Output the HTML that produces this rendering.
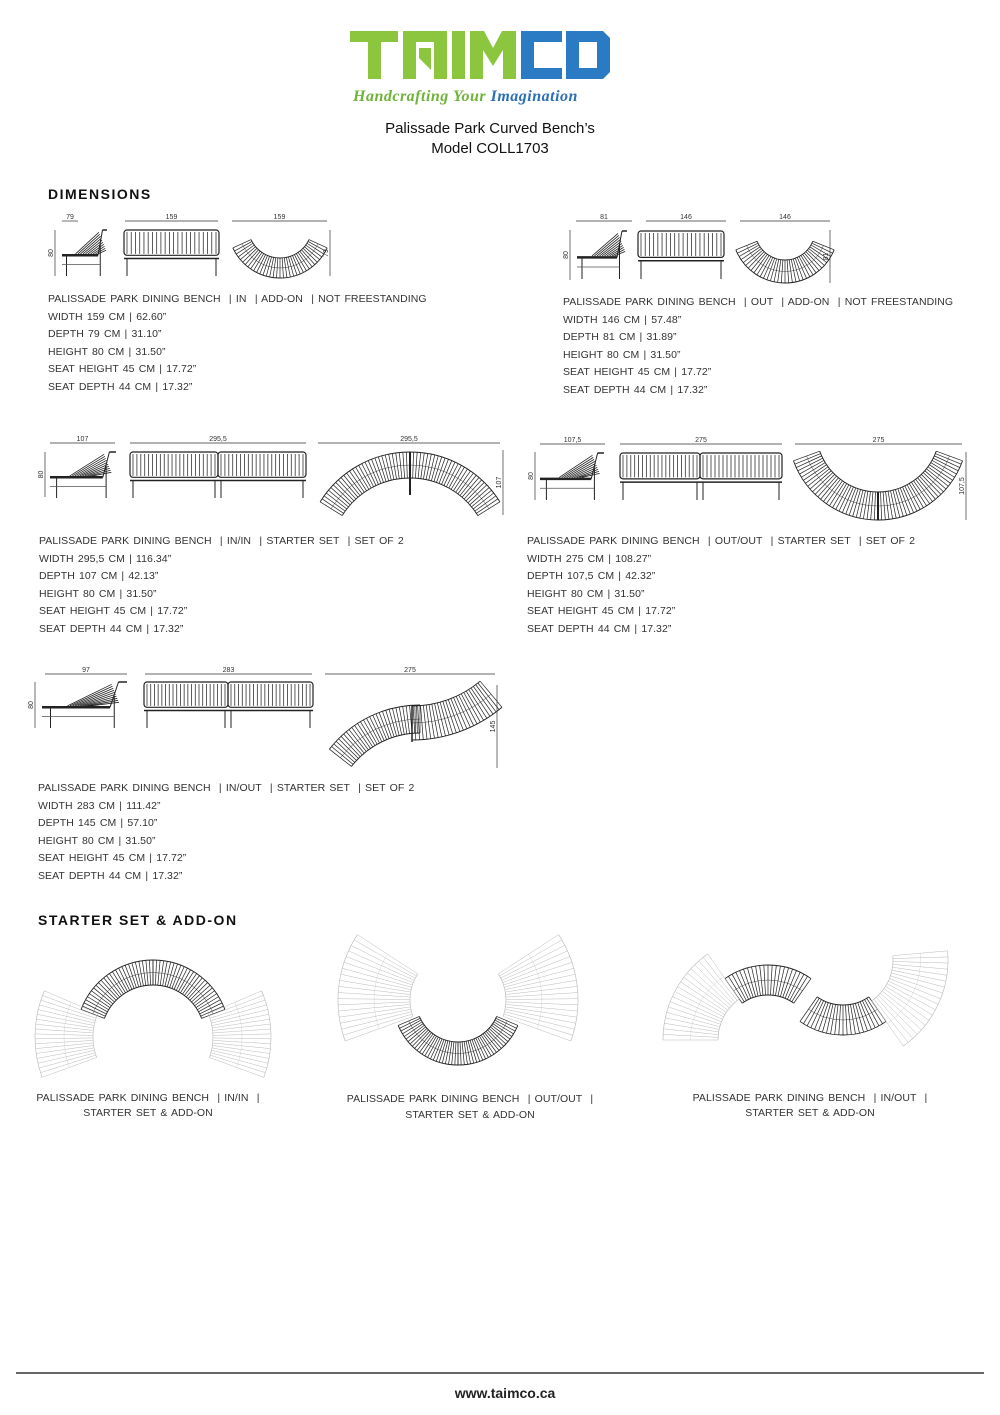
<!DOCTYPE html>
<html><head><meta charset="utf-8">
<style>
body{margin:0;background:#fff;}
#p{position:relative;width:1000px;height:1415px;overflow:hidden;font-family:"Liberation Sans",sans-serif;color:#222;}
.t{position:absolute;white-space:nowrap;}
.sp{font-size:10.5px;letter-spacing:0.05px;word-spacing:1.2px;line-height:17.5px;color:#333;}
.h{font-weight:bold;font-size:14px;letter-spacing:1.5px;color:#111;}
svg{position:absolute;left:0;top:0;}
</style></head><body><div id="p">
<svg width="1000" height="1415" id="s">
<g fill="#8cc63f">
<rect x="350" y="31" width="48" height="11"/><rect x="368" y="31" width="13" height="48"/>
<polygon points="403,31 447,31 447,79 434,79 434,42 416,42 416,79 403,79"/><polygon points="419,48 431,48 431,70 419,58"/>
<rect x="452" y="31" width="13" height="48"/>
<polygon points="470,31 484,31 493,48 502,31 516,31 516,79 503,79 503,50 493,66 483,50 483,79 470,79"/>
</g>
<g fill="#2b7bc4">
<polygon points="521,31 562,31 562,42 534,42 534,68 562,68 562,79 521,79"/>
<polygon points="566,31 603,31 610,38 610,72 603,79 566,79"/>
</g>
<rect x="579" y="42" width="18" height="26" fill="#fff"/>
<line x1="16" y1="1373" x2="984" y2="1373" stroke="#333" stroke-width="1.5"/>
</svg>
<div class="t" style="left:353px;top:88px;font:italic bold 16px 'Liberation Serif',serif;color:#6fb33a;letter-spacing:0.5px">Handcrafting Your <span style="color:#2b6fb4">Imagination</span></div>
<div class="t" style="left:340px;width:300px;top:119px;text-align:center;font-size:15px;line-height:20px;color:#111">Palissade Park Curved Bench’s<br>Model COLL1703</div>
<div class="t h" style="left:48px;top:186px">DIMENSIONS</div>
<div class="t sp" style="left:48px;top:291px">PALISSADE PARK DINING BENCH &nbsp;| IN &nbsp;| ADD-ON &nbsp;| NOT FREESTANDING<br>WIDTH 159 CM | 62.60”<br>DEPTH 79 CM | 31.10”<br>HEIGHT 80 CM | 31.50”<br>SEAT HEIGHT 45 CM | 17.72”<br>SEAT DEPTH 44 CM | 17.32”</div>
<div class="t sp" style="left:563px;top:294px">PALISSADE PARK DINING BENCH &nbsp;| OUT &nbsp;| ADD-ON &nbsp;| NOT FREESTANDING<br>WIDTH 146 CM | 57.48”<br>DEPTH 81 CM | 31.89”<br>HEIGHT 80 CM | 31.50”<br>SEAT HEIGHT 45 CM | 17.72”<br>SEAT DEPTH 44 CM | 17.32”</div>
<div class="t sp" style="left:39px;top:533px">PALISSADE PARK DINING BENCH &nbsp;| IN/IN &nbsp;| STARTER SET &nbsp;| SET OF 2<br>WIDTH 295,5 CM | 116.34”<br>DEPTH 107 CM | 42.13”<br>HEIGHT 80 CM | 31.50”<br>SEAT HEIGHT 45 CM | 17.72”<br>SEAT DEPTH 44 CM | 17.32”</div>
<div class="t sp" style="left:527px;top:533px">PALISSADE PARK DINING BENCH &nbsp;| OUT/OUT &nbsp;| STARTER SET &nbsp;| SET OF 2<br>WIDTH 275 CM | 108.27”<br>DEPTH 107,5 CM | 42.32”<br>HEIGHT 80 CM | 31.50”<br>SEAT HEIGHT 45 CM | 17.72”<br>SEAT DEPTH 44 CM | 17.32”</div>
<div class="t sp" style="left:38px;top:780px">PALISSADE PARK DINING BENCH &nbsp;| IN/OUT &nbsp;| STARTER SET &nbsp;| SET OF 2<br>WIDTH 283 CM | 111.42”<br>DEPTH 145 CM | 57.10”<br>HEIGHT 80 CM | 31.50”<br>SEAT HEIGHT 45 CM | 17.72”<br>SEAT DEPTH 44 CM | 17.32”</div>
<div class="t h" style="left:38px;top:912px">STARTER SET &amp; ADD-ON</div>
<div class="t sp" style="left:0;width:296px;top:1091px;line-height:15px;text-align:center">PALISSADE PARK DINING BENCH &nbsp;| IN/IN &nbsp;|<br>STARTER SET &amp; ADD-ON</div>
<div class="t sp" style="left:320px;width:300px;top:1091px;line-height:16px;text-align:center">PALISSADE PARK DINING BENCH &nbsp;| OUT/OUT &nbsp;|<br>STARTER SET &amp; ADD-ON</div>
<div class="t sp" style="left:660px;width:300px;top:1091px;line-height:15px;text-align:center">PALISSADE PARK DINING BENCH &nbsp;| IN/OUT &nbsp;|<br>STARTER SET &amp; ADD-ON</div>
<div class="t" style="left:405px;width:200px;top:1385px;text-align:center;font-weight:bold;font-size:14px;color:#222">www.taimco.ca</div>
</div>
<script>
var s=document.getElementById('s'),d='';
function L(x1,y1,x2,y2,c,w){d+='<line x1="'+x1+'" y1="'+y1+'" x2="'+x2+'" y2="'+y2+'" stroke="'+(c||'#222')+'" stroke-width="'+(w||1)+'"/>';}
function T(x,y,t,r){d+='<text x="'+x+'" y="'+y+'" font-size="7" font-family="Liberation Sans" fill="#333"'+(r?' transform="rotate(-90 '+x+' '+y+')"':'')+' text-anchor="middle">'+t+'</text>';}
function dim(x1,x2,y,t){L(x1,y,x2,y,'#333',.7);T((x1+x2)/2,y-2,t);}
function vd(x,y1,y2,t){L(x,y1,x,y2,'#333',.7);T(x-2,(y1+y2)/2,t,1);}
function chair(x,y,w,h){
 L(x,y+h*0.55,x+w*0.8,y+h*0.55,'#222',2.5);L(x+w*0.8,y+h*0.55,x+w*0.9,y);L(x+w*0.9,y,x+w,y,'#222',1.5);
 L(x+w*0.1,y+h*0.55,x+w*0.1,y+h);L(x+w*0.85,y+h*0.3,x+w*0.85,y+h);L(x,y+h*0.75,x+w*0.85,y+h*0.75,'#555',.7);
 for(var i=0;i<10;i++)L(x+w*0.3+i*2.5,y+h*0.52,x+w*0.82+i*0.8,y+h*0.05+i*2,'#222',.8);}
function front(x,y,w,h,n){
 d+='<rect x="'+x+'" y="'+y+'" width="'+w+'" height="'+h*0.55+'" fill="none" stroke="#222" stroke-width="1.2" rx="3"/>';
 for(var i=0;i<n;i++){var xx=x+3+i*(w-6)/(n-1);L(xx,y+2,xx,y+h*0.52,'#333',.8);}
 L(x,y+h*0.62,x+w,y+h*0.62,'#222',1.5);L(x+3,y+h*0.62,x+3,y+h);L(x+w-3,y+h*0.62,x+w-3,y+h);}
function arc(cx,cy,r1,r2,a0,a1,n,c,w){
 c=c||'#222';w=w||.7;var rad=Math.PI/180;
 for(var i=0;i<=n;i++){var a=(a0+(a1-a0)*i/n)*rad;L(cx+r1*Math.cos(a),cy+r1*Math.sin(a),cx+r2*Math.cos(a),cy+r2*Math.sin(a),c,w);}
 [r1,r2,(r1+r2)/2].forEach(function(r,k){var A=a0*rad,B=a1*rad;d+='<path d="M'+(cx+r*Math.cos(A))+' '+(cy+r*Math.sin(A))+' A'+r+' '+r+' 0 0 1 '+(cx+r*Math.cos(B))+' '+(cy+r*Math.sin(B))+'" fill="none" stroke="'+c+'" stroke-width="'+(k==2?w*.6:w*1.3)+'"/>';});}
dim(62,78,221,'79');dim(125,218,221,'159');dim(232,327,221,'159');vd(55,230,276,'80');
chair(62,230,45,46);front(124,230,95,46,22);arc(280,226,32,52,25,155,34);vd(330,230,276,'79');
dim(576,632,221,'81');dim(646,726,221,'146');dim(740,830,221,'146');vd(570,230,280,'80');
chair(577,231,50,48);front(638,231,86,48,20);arc(785,230,30,53,22,158,34);vd(830,230,283,'81');
dim(50,115,443,'107');dim(130,306,443,'295,5');dim(318,500,443,'295,5');vd(45,452,497,'80');
chair(50,452,66,46);front(130,452,88,46,22);front(218,452,88,46,22);
arc(410,558,80,106,212,270,30);arc(410,558,80,106,270,328,30);L(410,452,410,495,'#222',2);vd(503,450,515,'107');
dim(540,605,444,'107,5');dim(620,782,444,'275');dim(795,962,444,'275');vd(535,452,500,'80');
chair(540,453,64,47);front(620,453,80,47,20);front(700,453,82,47,20);
arc(878,430,62,90,20,90,30);arc(878,430,62,90,90,160,30);L(878,492,878,520,'#222',2);vd(966,452,520,'107,5');
dim(45,127,674,'97');dim(145,312,674,'283');dim(325,495,674,'275');vd(35,682,728,'80');
chair(42,682,85,46);front(144,682,84,46,22);front(228,682,85,46,22);
arc(420,820,87,115,218,270,30);arc(412,600,106,140,50,90,26);L(412,705,412,742,'#222',1.5);vd(497,685,768,'145');
arc(153,1037,52,77,201,270,26);arc(153,1037,52,77,270,339,26);
arc(153,1037,60,118,160,203,18,'#bbb',.5);arc(153,1037,60,118,337,380,18,'#bbb',.5);
arc(458,1000,42,65,23,90,24);arc(458,1000,42,65,90,157,24);
arc(458,1000,48,120,160,213,18,'#bbb',.5);arc(458,1000,48,120,327,380,18,'#bbb',.5);
arc(768,1040,45,75,235,305,22);arc(843,960,45,75,55,125,22);
arc(768,1040,50,105,180,235,18,'#bbb',.5);arc(843,960,50,105,355,415,18,'#bbb',.5);
s.insertAdjacentHTML('beforeend',d);
</script>
</body></html>
